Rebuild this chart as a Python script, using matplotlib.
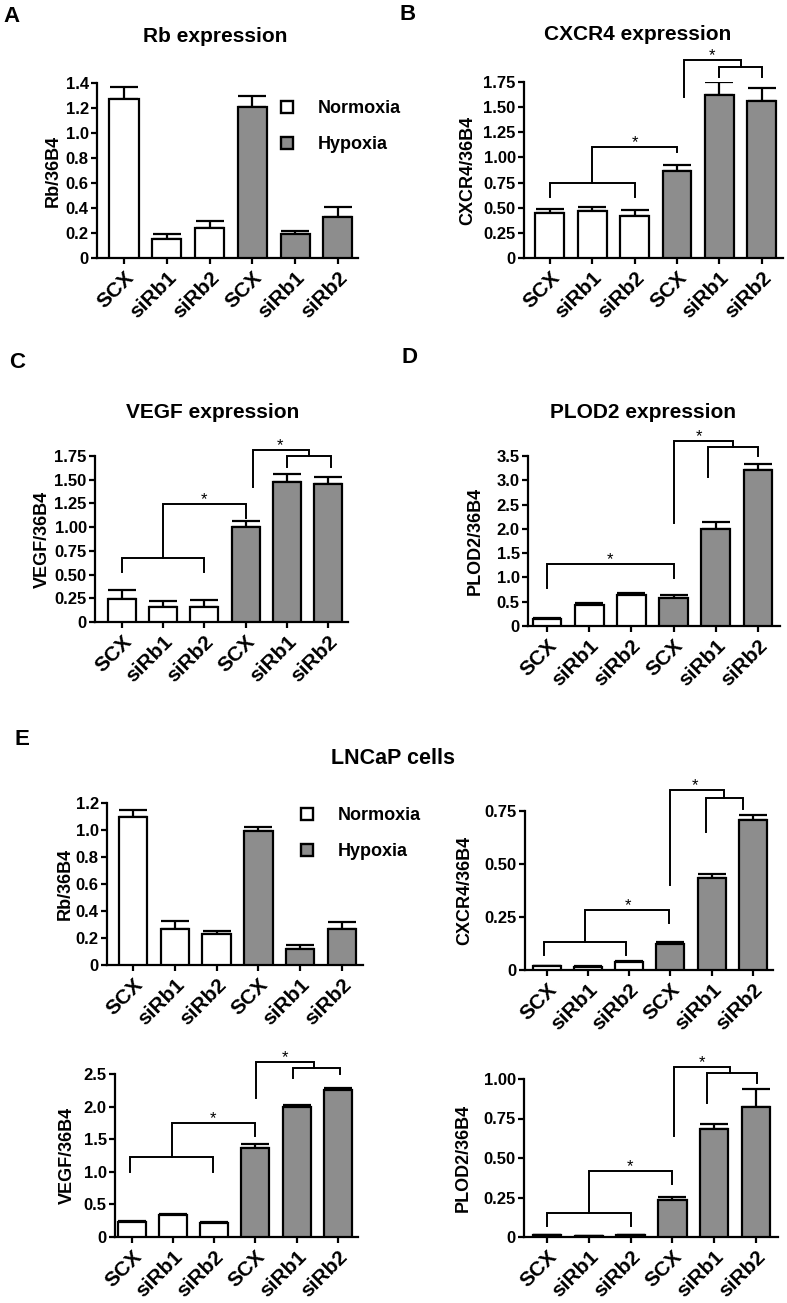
import matplotlib
matplotlib.use('Agg')
import matplotlib.pyplot as plt
from matplotlib.lines import Line2D

plt.rcParams['font.family'] = ['Liberation Sans', 'DejaVu Sans']
plt.rcParams['font.weight'] = 'bold'

# ---------------- data ----------------
categories = ['SCX', 'siRb1', 'siRb2', 'SCX', 'siRb1', 'siRb2']
conditions = ['Normoxia', 'Hypoxia']
bar_condition = [0, 0, 0, 1, 1, 1]

rb_mean = [1.27, 0.15, 0.24, 1.21, 0.19, 0.33]
rb_sem = [0.10, 0.04, 0.06, 0.09, 0.03, 0.075]

cxcr4_mean = [0.45, 0.47, 0.42, 0.87, 1.62, 1.56]
cxcr4_sem = [0.035, 0.04, 0.06, 0.05, 0.13, 0.13]

vegf_mean = [0.24, 0.16, 0.16, 1.00, 1.48, 1.45]
vegf_sem = [0.10, 0.065, 0.075, 0.07, 0.08, 0.08]

plod2_mean = [0.15, 0.43, 0.63, 0.57, 1.99, 3.21]
plod2_sem = [0.02, 0.035, 0.05, 0.07, 0.15, 0.12]

lncap_rb_mean = [1.095, 0.27, 0.23, 0.99, 0.115, 0.265]
lncap_rb_sem = [0.05, 0.055, 0.02, 0.03, 0.03, 0.05]

lncap_cxcr4_mean = [0.019, 0.016, 0.039, 0.122, 0.436, 0.709]
lncap_cxcr4_sem = [0.002, 0.002, 0.003, 0.01, 0.019, 0.021]

lncap_vegf_mean = [0.23, 0.33, 0.21, 1.36, 1.99, 2.26]
lncap_vegf_sem = [0.015, 0.022, 0.015, 0.07, 0.04, 0.03]

lncap_plod2_mean = [0.01, 0.008, 0.01, 0.234, 0.686, 0.82]
lncap_plod2_sem = [0.002, 0.001, 0.002, 0.021, 0.032, 0.115]

# y tick values / labels
rb_ticks = [0, 0.2, 0.4, 0.6, 0.8, 1.0, 1.2, 1.4]
rb_ticklabels = ['0', '0.2', '0.4', '0.6', '0.8', '1.0', '1.2', '1.4']
q175_ticks = [0, 0.25, 0.5, 0.75, 1.0, 1.25, 1.5, 1.75]
q175_ticklabels = ['0', '0.25', '0.50', '0.75', '1.00', '1.25', '1.50', '1.75']
plod2_ticks = [0, 0.5, 1.0, 1.5, 2.0, 2.5, 3.0, 3.5]
plod2_ticklabels = ['0', '0.5', '1.0', '1.5', '2.0', '2.5', '3.0', '3.5']
lrb_ticks = [0, 0.2, 0.4, 0.6, 0.8, 1.0, 1.2]
lrb_ticklabels = ['0', '0.2', '0.4', '0.6', '0.8', '1.0', '1.2']
lcx_ticks = [0, 0.25, 0.5, 0.75]
lcx_ticklabels = ['0', '0.25', '0.50', '0.75']
lvegf_ticks = [0, 0.5, 1.0, 1.5, 2.0, 2.5]
lvegf_ticklabels = ['0', '0.5', '1.0', '1.5', '2.0', '2.5']
lplod2_ticks = [0, 0.25, 0.5, 0.75, 1.0]
lplod2_ticklabels = ['0', '0.25', '0.50', '0.75', '1.00']

# significance brackets (x positions in bar units, y in data units)
cxcr4_brackets = [([0, 0, 2, 2], [0.604, 0.75, 0.75, 0.604]),
                  ([1, 1, 3, 3], [0.75, 1.106, 1.106, 1.057]),
                  ([4, 4, 5, 5], [1.80, 1.90, 1.90, 1.80]),
                  ([3.16, 3.16, 4.5, 4.5], [1.60, 1.965, 1.965, 1.90])]
cxcr4_stars = [(2, 1.106), (3.82, 1.965)]

vegf_brackets = [([0, 0, 2, 2], [0.526, 0.673, 0.673, 0.526]),
                 ([1, 1, 3, 3], [0.673, 1.245, 1.245, 1.094]),
                 ([4, 4, 5.06, 5.06], [1.638, 1.75, 1.75, 1.638]),
                 ([3.19, 3.19, 4.53, 4.53], [1.42, 1.813, 1.813, 1.75])]
vegf_stars = [(2, 1.245), (3.83, 1.813)]

plod2_brackets = [([0, 0, 3, 3], [0.776, 1.27, 1.27, 0.98]),
                  ([3.82, 3.82, 5, 5], [3.07, 3.69, 3.69, 3.49]),
                  ([3, 3, 4.41, 4.41], [2.13, 3.80, 3.80, 3.69])]
plod2_stars = [(1.5, 1.27), (3.6, 3.80)]

lcx_brackets = [([-0.06, -0.06, 1.92, 1.92], [0.071, 0.133, 0.133, 0.071]),
                ([0.93, 0.93, 2.97, 2.97], [0.133, 0.282, 0.282, 0.22]),
                ([3.87, 3.87, 4.76, 4.76], [0.651, 0.813, 0.813, 0.761]),
                ([2.98, 2.98, 4.31, 4.31], [0.40, 0.847, 0.847, 0.813])]
lcx_stars = [(1.96, 0.282), (3.6, 0.847)]

lvegf_brackets = [([-0.04, -0.04, 1.98, 1.98], [0.995, 1.222, 1.222, 0.995]),
                  ([0.98, 0.98, 2.98, 2.98], [1.222, 1.742, 1.742, 1.55]),
                  ([3.9, 3.9, 5.06, 5.06], [2.434, 2.596, 2.596, 2.5]),
                  ([3.02, 3.02, 4.43, 4.43], [2.13, 2.687, 2.687, 2.596])]
lvegf_stars = [(1.98, 1.742), (3.72, 2.687)]

lplod2_brackets = [([0, 0, 2, 2], [0.067, 0.151, 0.151, 0.067]),
                   ([1, 1, 3, 3], [0.151, 0.418, 0.418, 0.335]),
                   ([3.84, 3.84, 5.02, 5.02], [0.847, 1.036, 1.036, 0.973]),
                   ([3.04, 3.04, 4.38, 4.38], [0.638, 1.077, 1.077, 1.036])]
lplod2_stars = [(1.98, 0.418), (3.72, 1.077)]

# ---------------- styling ----------------
W, H = 787, 1303
fig = plt.figure(figsize=(W / 100, H / 100), dpi=100)
colors = ['white', '#8d8d8d']
LW = 1.6


def panel(box, mean, sem, ticks, ticklabels, ylabel, xlim, ylab_px,
          brackets=None, stars=None):
    l, t, r, b = box
    ax = fig.add_axes([l / W, 1 - b / H, (r - l) / W, (b - t) / H])
    x = list(range(len(categories)))
    ax.bar(x, mean, width=0.68, color=[colors[c] for c in bar_condition],
           edgecolor='black', linewidth=LW, zorder=3)
    ax.errorbar(x, mean, yerr=[[0] * len(sem), sem], fmt='none', ecolor='black',
                elinewidth=LW, capsize=10, capthick=LW, zorder=2)
    ax.set_xlim(*xlim)
    ax.set_ylim(ticks[0], ticks[-1])
    ax.set_yticks(ticks)
    ax.set_yticklabels(ticklabels, fontsize=12, fontweight='bold')
    ax.set_xticks(x)
    ax.set_xticklabels(categories, rotation=45, ha='right',
                       rotation_mode='anchor', fontsize=15, fontweight='bold')
    for s in ['top', 'right']:
        ax.spines[s].set_visible(False)
    for s in ['left', 'bottom']:
        ax.spines[s].set_linewidth(LW)
    ax.tick_params(axis='both', width=LW, length=4, pad=2)
    ax.tick_params(axis='x', pad=3)
    ax.set_ylabel(ylabel, fontsize=13, fontweight='bold', va='center')
    ax.yaxis.set_label_coords((ylab_px - l) / (r - l), 0.5)
    if brackets:
        for bx, by in brackets:
            ax.plot(bx, by, color='black', lw=1.4, clip_on=False, zorder=4,
                    solid_joinstyle='miter')
    if stars:
        for sx, sy in stars:
            ax.text(sx, sy, '*', ha='center', va='baseline', fontsize=12,
                    fontweight='normal', clip_on=False,
                    transform=ax.transData)
    return ax


def add_legend(ax, fx, fy):
    handles = [Line2D([], [], marker='s', linestyle='none', markersize=8,
                      markerfacecolor=colors[i], markeredgecolor='black',
                      markeredgewidth=1.7) for i in range(2)]
    ax.legend(handles, conditions, loc='upper left',
              bbox_to_anchor=(fx / W, 1 - fy / H), bbox_transform=fig.transFigure,
              frameon=False, prop={'weight': 'bold', 'size': 13},
              handlelength=0.8, handletextpad=1.3, labelspacing=1.05,
              borderpad=0, borderaxespad=0)


axA = panel((97, 83, 358, 258), rb_mean, rb_sem, rb_ticks, rb_ticklabels,
            'Rb/36B4', (-0.63, 5.47), 53)
add_legend(axA, 280, 100)
panel((524, 82, 783, 258), cxcr4_mean, cxcr4_sem, q175_ticks, q175_ticklabels,
      'CXCR4/36B4', (-0.61, 5.5), 468, cxcr4_brackets, cxcr4_stars)
panel((95, 456, 348, 622), vegf_mean, vegf_sem, q175_ticks, q175_ticklabels,
      'VEGF/36B4', (-0.65, 5.48), 42, vegf_brackets, vegf_stars)
panel((528, 456, 780, 626), plod2_mean, plod2_sem, plod2_ticks, plod2_ticklabels,
      'PLOD2/36B4', (-0.45, 5.52), 475, plod2_brackets, plod2_stars)
axE = panel((107, 803, 363, 965), lncap_rb_mean, lncap_rb_sem, lrb_ticks,
            lrb_ticklabels, 'Rb/36B4', (-0.62, 5.5), 65)
add_legend(axE, 300, 807)
panel((525, 811, 773, 970), lncap_cxcr4_mean, lncap_cxcr4_sem, lcx_ticks,
      lcx_ticklabels, 'CXCR4/36B4', (-0.53, 5.49), 465, lcx_brackets, lcx_stars)
panel((115, 1074, 358, 1237), lncap_vegf_mean, lncap_vegf_sem, lvegf_ticks,
      lvegf_ticklabels, 'VEGF/36B4', (-0.41, 5.49), 67, lvegf_brackets, lvegf_stars)
panel((524, 1079, 778, 1237), lncap_plod2_mean, lncap_plod2_sem, lplod2_ticks,
      lplod2_ticklabels, 'PLOD2/36B4', (-0.55, 5.53), 463, lplod2_brackets,
      lplod2_stars)


def ftext(x, y, s, size, **kw):
    fig.text(x / W, 1 - y / H, s, fontsize=size, fontweight='bold',
             ha=kw.pop('ha', 'center'), va=kw.pop('va', 'center'), **kw)


ftext(215, 37, 'Rb expression', 15)
ftext(638, 34, 'CXCR4 expression', 15)
ftext(213, 412, 'VEGF expression', 15)
ftext(643, 413, 'PLOD2 expression', 15)
ftext(393, 759, 'LNCaP cells', 15.5)
ftext(11, 17, 'A', 16)
ftext(408, 14, 'B', 16)
ftext(17, 362, 'C', 16)
ftext(409, 358, 'D', 16)
ftext(22, 739, 'E', 16)

fig.savefig('out.png', dpi=100)
